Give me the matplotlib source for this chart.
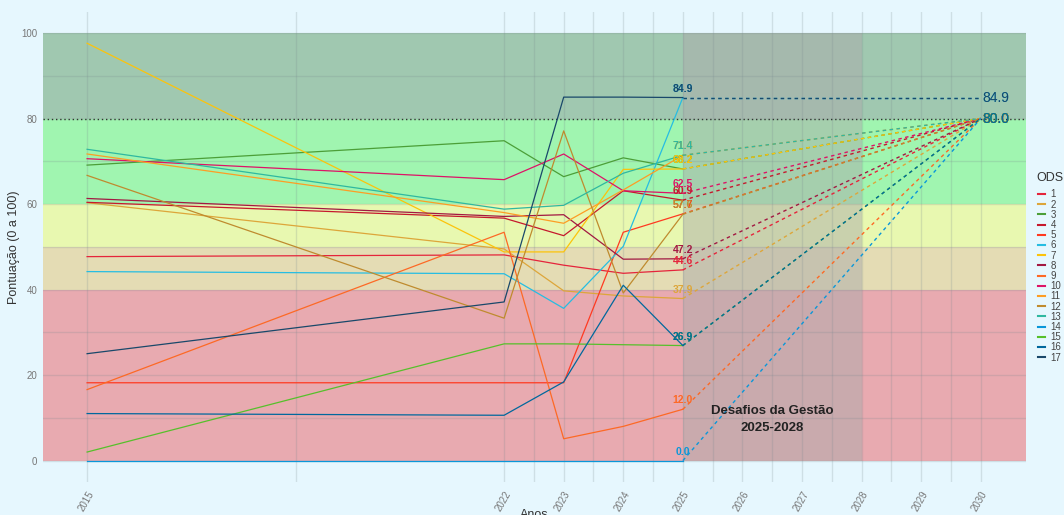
import matplotlib.pyplot as plt
from matplotlib.lines import Line2D
from matplotlib.ticker import FixedLocator

plt.rcParams['font.family'] = ['Liberation Sans', 'DejaVu Sans']

years = [2015, 2022, 2023, 2024, 2025]
ods = [str(i) for i in range(1, 18)]
colors = ['#e5243b', '#dda63a', '#4c9f38', '#c5192d', '#ff3a21', '#26bde2',
          '#fcc30b', '#a21942', '#fd6925', '#dd1367', '#fd9d24', '#bf8b2e',
          '#2fb8a0', '#0a97d9', '#56c02b', '#00689d', '#19486a']

# pontuacao por ODS (2015, 2022, 2023, 2024, 2025)
scores = [
    [47.7, 48.1, 45.7, 43.8, 44.6],
    [60.3, 49.5, 39.7, 38.5, 37.9],
    [69.1, 74.8, 66.4, 70.8, 68.2],
    [60.4, 56.7, 52.6, 63.1, 60.9],
    [18.2, 18.2, 18.2, 53.4, 57.7],
    [44.2, 43.7, 35.6, 50.1, 84.9],
    [97.6, 48.8, 48.8, 68.1, 68.2],
    [61.3, 57.1, 57.5, 47.1, 47.2],
    [16.6, 53.4, 5.1, 8.0, 12.0],
    [70.6, 65.7, 71.7, 63.1, 62.5],
    [71.7, 58.0, 55.5, 63.3, 71.4],
    [66.7, 33.3, 77.1, 39.2, 57.6],
    [72.8, 58.8, 59.7, 67.2, 71.4],
    [0.0, 0.0, 0.0, 0.0, 0.0],
    [2.0, 27.3, 27.3, 27.1, 26.9],
    [11.0, 10.6, 18.4, 41.0, 26.9],
    [25.0, 37.1, 85.0, 85.0, 84.9],
]

meta_ano = 2030
meta = 80.0
tick_years = [2015, 2022, 2023, 2024, 2025, 2026, 2027, 2028, 2029, 2030]
minor_years = [2018.5, 2022.5, 2023.5, 2024.5, 2025.5, 2026.5, 2027.5, 2028.5, 2029.5]

# faixas de desempenho
bands = [(0, 40, '#e8aab0'), (40, 50, '#e4dcb4'), (50, 60, '#e8f8b0'),
         (60, 80, '#a0f5b0'), (80, 100, '#a0c8b0')]

bg = '#e6f7fe'
fig = plt.figure(figsize=(10.64, 5.15), dpi=100, facecolor=bg)
ax = fig.add_axes([43 / 1064, 1 - 482.4 / 515, 983 / 1064, 470.8 / 515])
ax.set_facecolor(bg)

for lo, hi, c in bands:
    ax.axhspan(lo, hi, color=c, lw=0, zorder=0)

ax.axvspan(2025, 2028, ymin=(0 + 5.1) / 110.1, ymax=(100 + 5.1) / 110.1,
           color='#ababab', alpha=0.5, lw=0, zorder=1)

ax.axhline(80, color='#333333', ls=(0, (1, 2)), lw=1, zorder=2)

for i, name in enumerate(ods):
    vals = scores[i]
    c = colors[i]
    ax.plot(years, vals, color=c, lw=0.9, zorder=3, clip_on=False)
    last = vals[-1]
    fim = max(last, meta)
    ax.plot([years[-1], meta_ano], [last, fim], color=c, lw=1, ls=(0, (2.5, 2.5)), zorder=3)
    ax.annotate(f'{last:.1f}', (years[-1], last), xytext=(0, 9), textcoords='offset pixels',
                ha='center', va='center', fontsize=7.5, fontweight='bold', color=c, zorder=5)
    ax.annotate(f'{fim:.1f}', (meta_ano, fim), xytext=(2, 0), textcoords='offset pixels',
                ha='left', va='center', fontsize=10, color=c, zorder=5)

ax.text(2026.5, 9.6, 'Desafios da Gestão\n2025-2028', ha='center', va='center',
        fontsize=9.5, fontweight='bold', color='#222222', linespacing=1.6, zorder=5)

ax.set_xlim(2014.26, 2030.76)
ax.set_ylim(-5.1, 105)
ax.xaxis.set_major_locator(FixedLocator(tick_years))
ax.xaxis.set_minor_locator(FixedLocator(minor_years))
ax.yaxis.set_major_locator(FixedLocator([0, 20, 40, 60, 80, 100]))
ax.yaxis.set_minor_locator(FixedLocator([10, 30, 50, 70, 90]))
ax.grid(True, which='both', color='#7a8a90', alpha=0.22, lw=1, zorder=1)
for sp in ax.spines.values():
    sp.set_visible(False)
ax.tick_params(which='both', length=0, labelsize=7, labelcolor='#777777')
ax.tick_params(axis='y', pad=4)
ax.tick_params(axis='x', pad=5)
for lab in ax.get_xticklabels():
    lab.set_rotation(60)
    lab.set_ha('right')
    lab.set_rotation_mode('anchor')

ax.set_xlabel('Anos', fontsize=9, color='#333333', labelpad=-3)
ax.set_ylabel('Pontuação (0 a 100)', fontsize=9, color='#333333', labelpad=1)

handles = [Line2D([0], [0], color=c, lw=1.5) for c in colors]
leg = fig.legend(handles, ods, title='ODS', loc='upper left',
                 bbox_to_anchor=(1032 / 1064, 1 - 168 / 515), frameon=False,
                 fontsize=7, title_fontsize=9, handlelength=0.8, handletextpad=0.5,
                 labelspacing=0.02, borderaxespad=0)
leg._legend_box.sep = 4
for t in leg.get_texts():
    t.set_color('#444444')
leg.get_title().set_color('#333333')

fig.savefig('out.png', dpi=100, facecolor=bg)
